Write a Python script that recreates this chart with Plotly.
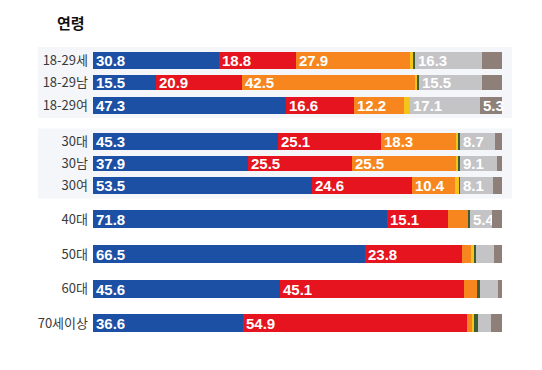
import plotly.graph_objects as go

categories = ["18-29세", "18-29남", "18-29여", "30대", "30남", "30여", "40대", "50대", "60대", "70세이상"]
groups = [[0, 1, 2], [3, 4, 5], [6], [7], [8], [9]]

parties = ["더불어민주당", "국민의힘", "개혁신당", "민주노동당", "조국혁신당", "없음", "모름"]
blue = [30.8, 15.5, 47.3, 45.3, 37.9, 53.5, 71.8, 66.5, 45.6, 36.6]
red = [18.8, 20.9, 16.6, 25.1, 25.5, 24.6, 15.1, 23.8, 45.1, 54.9]
orange = [27.9, 42.5, 12.2, 18.3, 25.5, 10.4, 4.9, 2.2, 3.2, 1.4]
yellow = [0.7, 0.3, 1.5, 0.5, 0.3, 1.0, 0.0, 0.6, 0.2, 0.3]
green = [0.6, 0.5, 0.0, 0.5, 0.5, 0.3, 0.4, 0.6, 0.4, 1.0]
gray = [16.3, 15.5, 17.1, 8.7, 9.1, 8.1, 5.4, 4.4, 4.6, 3.2]
brown = [4.9, 4.8, 5.3, 1.6, 1.2, 2.1, 2.4, 1.9, 0.9, 2.6]

series = [blue, red, orange, yellow, green, gray, brown]
colors = ["#1c50a5", "#e5141e", "#f7861f", "#f4c41a", "#3b5e35", "#c4c4c6", "#8e7f78"]

# row layout (axis units = page pixels)
ypos = [60, 82.5, 105, 141.5, 163.5, 185.5, 219, 254, 288.5, 323]
bar_w = [17, 15, 17, 17, 15, 17, 18, 18, 18, 18]

fig = go.Figure()
for name, vals, col in zip(parties, series, colors):
    txt = [f"{v:.1f}" if v >= 5 else "" for v in vals]
    fig.add_trace(go.Bar(
        y=ypos, x=vals, orientation="h", width=bar_w, name=name,
        marker=dict(color=col, line=dict(width=0)),
        text=txt, textposition="inside", insidetextanchor="start",
        textfont=dict(color="white", size=15, family="Liberation Sans"),
        texttemplate="<b>%{text}</b>", cliponaxis=False,
        hoverinfo="x+name",
    ))

OFF = 8  # page body margin
W, H = 542 - OFF, 370 - OFF
ml = 93 - OFF
pw = 409
mr = W - ml - pw
shapes = []
for g in groups[:2]:
    top = ypos[g[0]] - 13
    bot = ypos[g[-1]] + 13
    shapes.append(dict(type="rect", xref="paper", yref="y",
                       x0=(38 - 93) / pw, x1=(512 - 93) / pw, y0=top, y1=bot,
                       fillcolor="#f4f6f9", line=dict(width=0), layer="below"))

fig.update_layout(
    width=W, height=H,
    margin=dict(l=ml, r=mr, t=0, b=0, autoexpand=False),
    barmode="stack", bargap=0,
    showlegend=False,
    plot_bgcolor="white", paper_bgcolor="white",
    uniformtext=dict(minsize=15, mode="show"),
    shapes=shapes,
    xaxis=dict(range=[0, 100], visible=False, fixedrange=True),
    yaxis=dict(range=[370, OFF], tickvals=ypos, ticktext=categories, showgrid=False,
               zeroline=False, showline=False, ticks="", ticklabelstandoff=4,
               automargin=False,
               tickfont=dict(family="Noto Sans CJK KR", size=13, color="#3a3a3a")),
    annotations=[dict(text="<b>연령</b>", xref="paper", yref="y",
                      x=(55 - 93) / pw, y=22, xanchor="left", yanchor="middle",
                      showarrow=False,
                      font=dict(family="Noto Sans CJK KR", size=15, color="#111"))],
)

fig.write_html("out.html")
